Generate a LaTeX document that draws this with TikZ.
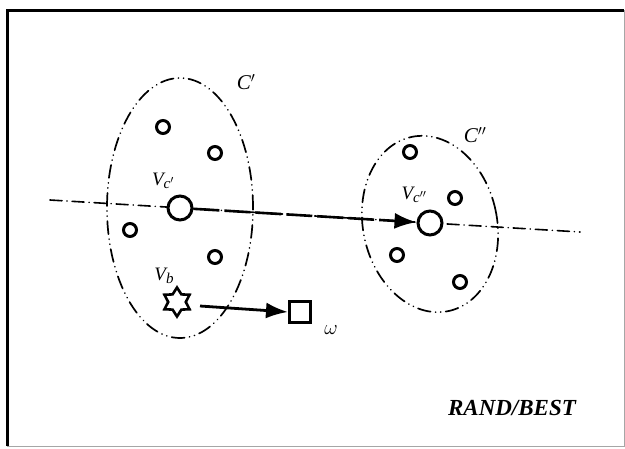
\documentclass[tikz,border=0pt]{standalone}
\usepackage{fontspec}
\setmainfont{Liberation Serif}
\usetikzlibrary{shapes.geometric,arrows.meta}
\begin{document}
\begin{tikzpicture}[x=1pt,y=-1pt,
  clusterline/.style={draw, ellipse, line width=1.7pt, line cap=round,
    dash pattern=on 13pt off 5pt on 0.1pt off 5pt on 0.1pt off 5pt, inner sep=0pt},
  smallv/.style={circle, draw, line width=3pt, fill=white, minimum size=13pt, inner sep=0pt},
  bigv/.style={circle, draw, line width=3pt, fill=white, minimum size=24pt, inner sep=0pt},
  axisline/.style={line width=1.6pt, line cap=round, dash pattern=on 12pt off 5pt on 0.1pt off 5pt},
  movearrow/.style={line width=2.6pt, dash pattern=on 26pt off 5pt, -{Latex[length=22pt,width=16pt]}},
  lbl/.style={font=\fontsize{21}{24}\selectfont\itshape, inner sep=0pt},
  vlbl/.style={font=\fontsize{19}{22}\selectfont\itshape, inner sep=0pt}
]
\useasboundingbox (0,0) rectangle (625,448);
% frame
\fill[white] (0,0) rectangle (625,448);
\draw[line width=0.8pt, black!35] (7,446) -- (624,446) -- (624,10);
\draw[line width=3pt] (7,446) -- (7,10) -- (624,10);

% clusters
\node[clusterline, minimum width=146pt, minimum height=260pt] (C1) at (180,208) {};
\node[clusterline, minimum width=134pt, minimum height=178pt, rotate=12] (C2) at (430,224) {};
\node[lbl] (lC1) at (246,82) {C$'$};
\node[lbl] (lC2) at (475,135) {C$''$};

% axis line
\coordinate (L) at (50,200);
\coordinate (R) at (580,232);
\draw[axisline] (L) -- (R);

% vertices
\node[smallv] (a1) at (163,127) {};
\node[smallv] (a2) at (215,153) {};
\node[smallv] (a3) at (130,230) {};
\node[smallv] (a4) at (215,257) {};
\node[bigv] (Vc1) at (180,208) {};
\node[smallv] (b1) at (410,152) {};
\node[smallv] (b2) at (455,198) {};
\node[smallv] (b3) at (397,255) {};
\node[smallv] (b4) at (460,282) {};
\node[bigv] (Vc2) at (430,223) {};

\node[vlbl] (lVc1) at (163,181) {V\raisebox{-0.3ex}{\fontsize{15}{16}\selectfont c$'$}};
\node[vlbl] (lVc2) at (414,195) {V\raisebox{-0.3ex}{\fontsize{15}{16}\selectfont c$''$}};

% moving arrow
\draw[movearrow] (Vc1) -- (Vc2);

% best vertex
\node[star, star points=6, star point ratio=1.65, draw, line width=2.6pt, minimum size=29pt, inner sep=0pt] (vb) at (177,302) {};
\node[vlbl] (lVb) at (164,276) {V\raisebox{-0.3ex}{\fontsize{15}{16}\selectfont b}};
\node[draw, line width=3pt, minimum size=21pt, inner sep=0pt] (w) at (300,312) {};
\node[lbl] (lw) at (331,330) {$\omega$};
\coordinate (vbs) at (200,306);
\draw[line width=2.8pt, -{Latex[length=22pt,width=16pt]}] (vbs) -- (w.west);

\node[font=\fontsize{23}{26}\selectfont\bfseries\itshape, inner sep=0pt] (rb) at (512,408) {RAND/BEST};
\end{tikzpicture}
\end{document}
